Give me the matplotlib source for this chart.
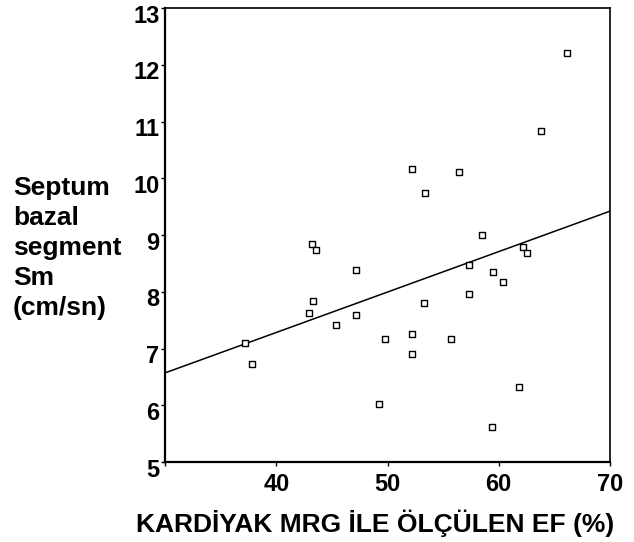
import matplotlib
matplotlib.use('Agg')
import matplotlib.pyplot as plt
import matplotlib.transforms as mtransforms
import numpy as np

plt.rcParams['font.family'] = ['Liberation Sans', 'DejaVu Sans']
plt.rcParams['font.weight'] = 'bold'

# okunan noktalar (EF %, Sm cm/sn)
ef = [66.1, 63.8, 52.2, 56.4, 53.4, 58.5,
      43.2, 43.6, 47.2, 43.3, 42.9, 47.2, 45.4, 49.8, 37.2, 37.8, 49.2,
      62.2, 62.5, 57.3, 59.5, 60.4, 57.3, 53.3, 52.2, 55.7, 52.2, 61.8, 59.4]
sm = [12.2, 10.83, 10.16, 10.11, 9.74, 9.0,
      8.84, 8.74, 8.39, 7.83, 7.62, 7.59, 7.41, 7.17, 7.09, 6.72, 6.03,
      8.79, 8.68, 8.47, 8.34, 8.18, 7.96, 7.81, 7.25, 7.17, 6.91, 6.32, 5.61]

# regresyon cizgisi (resimden)
fit_intercept = 4.4325
fit_slope = 0.07125

x_ticks = [40, 50, 60, 70]
y_ticks = [5, 6, 7, 8, 9, 10, 11, 12, 13]

fig = plt.figure(figsize=(6.34, 5.42), dpi=100)
ax = fig.add_axes([0.2603, 0.1476, 0.7018, 0.8376])

ax.scatter(ef, sm, marker='s', s=22, facecolors='white', edgecolors='black',
           linewidths=1.0, zorder=3)

xx = np.array([30, 70])
ax.plot(xx, fit_intercept + fit_slope * xx, color='black', lw=1.1, zorder=2)

ax.set_xlim(30, 70)
ax.set_ylim(5, 13)
ax.set_xticks([30] + x_ticks)
ax.set_xticklabels([''] + [str(t) for t in x_ticks])
ax.set_yticks(y_ticks)
ax.set_yticklabels([str(t) for t in y_ticks])
ax.tick_params(direction='out', length=3, width=1, labelsize=17, pad=1)
ax.tick_params(axis='x', pad=5)

for s in ['top', 'right']:
    ax.spines[s].set_linewidth(1.2)
for s in ['left', 'bottom']:
    ax.spines[s].set_linewidth(1.6)

offset = mtransforms.ScaledTranslation(0, -4 / 72, fig.dpi_scale_trans)
for lbl in ax.get_yticklabels():
    lbl.set_transform(lbl.get_transform() + offset)

ax.set_xlabel('KARDİYAK MRG İLE ÖLÇÜLEN EF (%)', fontsize=19, fontweight='bold', labelpad=10)
ax.xaxis.label.set_x(0.473)
fig.text(13 / 634, 1 - 248 / 542, 'Septum\nbazal\nsegment\nSm\n(cm/sn)',
         fontsize=19, fontweight='bold', ha='left', va='center', linespacing=1.32)

fig.savefig('out.png', dpi=100)
